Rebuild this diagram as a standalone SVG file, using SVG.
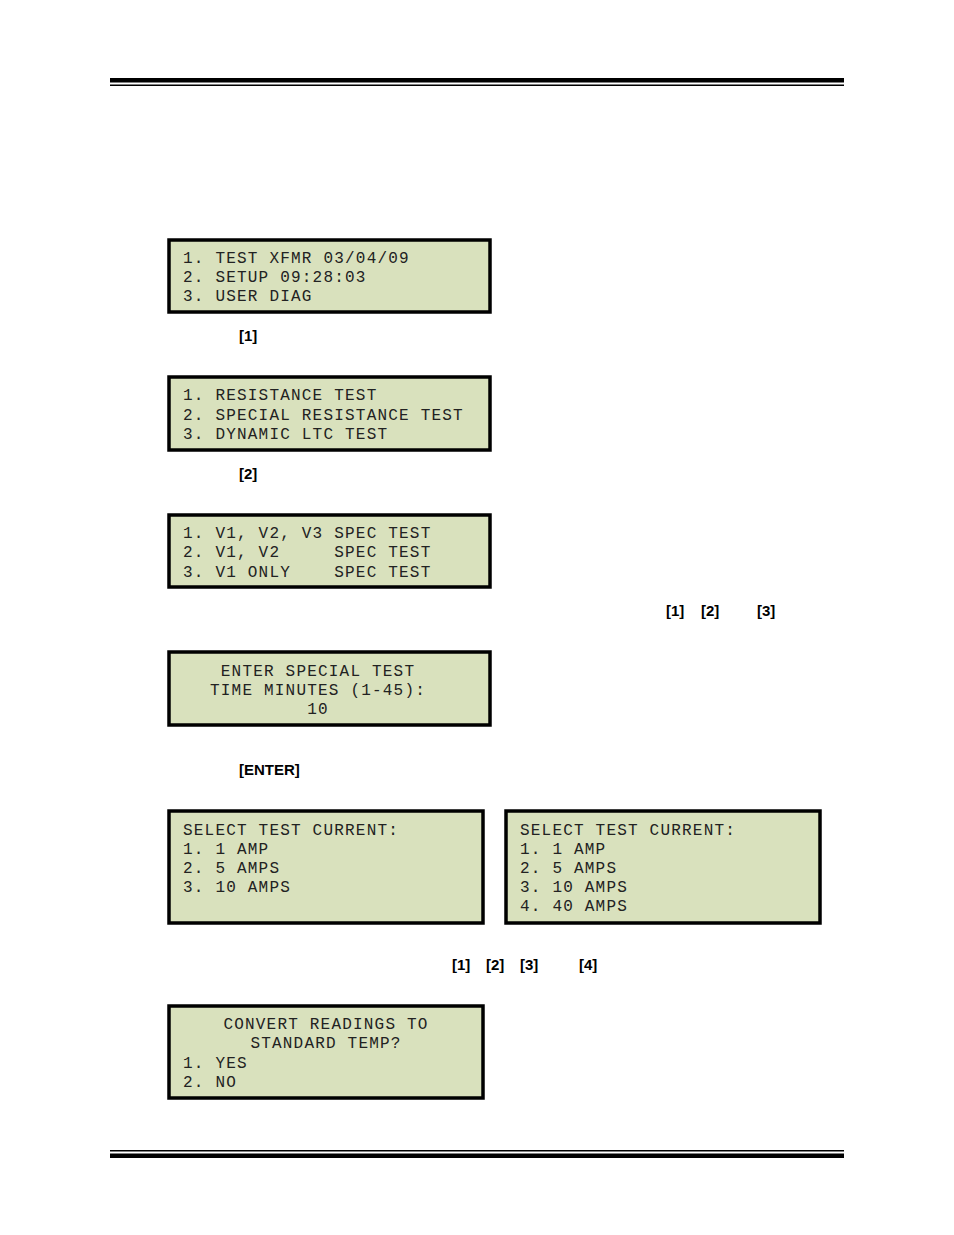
<svg xmlns="http://www.w3.org/2000/svg" width="954" height="1235" viewBox="0 0 954 1235">
<style>
.lcd{fill:#d9e1bd;stroke:#000;stroke-width:3.5}
.t{font-family:"Liberation Mono","DejaVu Sans Mono",monospace;font-size:16px;letter-spacing:1.2px;fill:#222}
.c{text-anchor:middle}
.k{font-family:"Liberation Sans",Arial,sans-serif;font-weight:bold;font-size:15px;fill:#000}
</style>
<rect width="954" height="1235" fill="#fff"/>
<rect x="110" y="78" width="734" height="4.5" fill="#000"/>
<rect x="110" y="84.5" width="734" height="1.5" fill="#000"/>
<rect x="110" y="1150" width="734" height="1.5" fill="#000"/>
<rect x="110" y="1153.5" width="734" height="4.5" fill="#000"/>
<g id="screen1"><rect class="lcd" x="169" y="240" width="321" height="72"/>
<text class="t" x="183" y="263">1. TEST XFMR     03/04/09</text>
<text class="t" x="183" y="282">2. SETUP         09:28:03</text>
<text class="t" x="183" y="301">3. USER DIAG</text></g>
<text class="k" x="239" y="341">[1]</text>
<g id="screen2"><rect class="lcd" x="169" y="377" width="321" height="73"/>
<text class="t" x="183" y="400">1. RESISTANCE TEST</text>
<text class="t" x="183" y="420">2. SPECIAL RESISTANCE TEST</text>
<text class="t" x="183" y="439">3. DYNAMIC LTC TEST</text></g>
<text class="k" x="239" y="479">[2]</text>
<g id="screen3"><rect class="lcd" x="169" y="515" width="321" height="72"/>
<text class="t" x="183" y="538" xml:space="preserve">1. V1, V2, V3 SPEC TEST</text>
<text class="t" x="183" y="557" xml:space="preserve">2. V1, V2     SPEC TEST</text>
<text class="t" x="183" y="577" xml:space="preserve">3. V1 ONLY    SPEC TEST</text></g>
<text class="k" x="666" y="616">[1]</text><text class="k" x="701" y="616">[2]</text><text class="k" x="757" y="616">[3]</text>
<g id="screen4"><rect class="lcd" x="169" y="652" width="321" height="73"/>
<text class="t c" x="318" y="676">ENTER SPECIAL TEST</text>
<text class="t c" x="318" y="695">TIME MINUTES (1-45):</text>
<text class="t c" x="318" y="714">10</text></g>
<text class="k" x="239" y="775">[ENTER]</text>
<g id="screen5"><rect class="lcd" x="169" y="811" width="314" height="112"/>
<text class="t" x="183" y="835">SELECT TEST CURRENT:</text>
<text class="t" x="183" y="854">1. 1 AMP</text>
<text class="t" x="183" y="873">2. 5 AMPS</text>
<text class="t" x="183" y="892">3. 10 AMPS</text></g>
<g id="screen6"><rect class="lcd" x="506" y="811" width="314" height="112"/>
<text class="t" x="520" y="835">SELECT TEST CURRENT:</text>
<text class="t" x="520" y="854">1. 1 AMP</text>
<text class="t" x="520" y="873">2. 5 AMPS</text>
<text class="t" x="520" y="892">3. 10 AMPS</text>
<text class="t" x="520" y="911">4. 40 AMPS</text></g>
<text class="k" x="452" y="970">[1]</text><text class="k" x="486" y="970">[2]</text><text class="k" x="520" y="970">[3]</text><text class="k" x="579" y="970">[4]</text>
<g id="screen7"><rect class="lcd" x="169" y="1006" width="314" height="92"/>
<text class="t c" x="326" y="1029">CONVERT READINGS TO</text>
<text class="t c" x="326" y="1048">STANDARD TEMP?</text>
<text class="t" x="183" y="1068">1. YES</text>
<text class="t" x="183" y="1087">2. NO</text></g>
<g id="connectors"/>
</svg>
